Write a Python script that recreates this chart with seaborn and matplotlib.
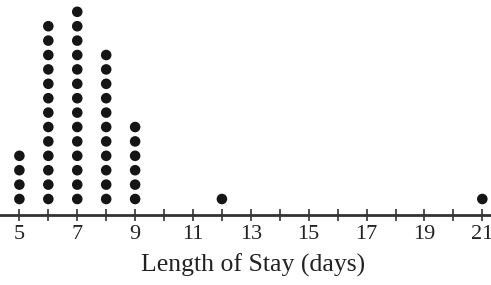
import pandas as pd
import numpy as np
import matplotlib
matplotlib.use("Agg")
import matplotlib.pyplot as plt
import seaborn as sns

# Dot plot: length of stay (days), one dot per patient
stay_days = [5, 6, 7, 8, 9, 12, 21]
patient_counts = [4, 13, 14, 11, 6, 1, 1]
tick_labels = [5, 7, 9, 11, 13, 15, 17, 19, 21]

# one row per dot, stacked by level
rows = []
for d, n in zip(stay_days, patient_counts):
    for k in range(1, n + 1):
        rows.append({"days": d, "level": k})
df = pd.DataFrame(rows)

sns.set_style("white")
plt.rcParams["font.family"] = ["Liberation Serif", "DejaVu Serif"]

fig = plt.figure(figsize=(4.91, 2.85), dpi=100)
ax = fig.add_axes([0, 1 - 215 / 285, 1, 215 / 285])

sns.scatterplot(data=df, x="days", y="level", ax=ax, s=58, color="#151515",
                edgecolor="none", legend=False)

ax.set_xlim(4.33, 21.3)
ax.set_ylim(-0.11, 14.82)
ax.set_ylabel("")
ax.set_yticks([])
ax.set_xticks(range(5, 22))
ax.set_xticklabels([str(t) if t in tick_labels else "" for t in range(5, 22)],
                   fontsize=16, color="#222222")
ax.tick_params(axis="x", direction="inout", length=9, width=1.2, color="#333333",
               bottom=True, pad=3)
ax.set_xlabel("Length of Stay (days)", fontsize=18.5, color="#222222")
ax.xaxis.set_label_coords(253 / 491, -0.18)

for side in ["top", "left", "right"]:
    ax.spines[side].set_visible(False)
ax.spines["bottom"].set_linewidth(2)
ax.spines["bottom"].set_color("#333333")

fig.savefig("out.png", dpi=100)
